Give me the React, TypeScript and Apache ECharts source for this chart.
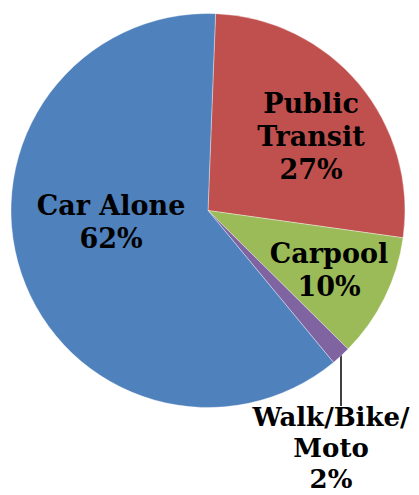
import React, { useEffect, useRef } from "react";
import * as echarts from "echarts";

const categories = ["Public\nTransit", "Carpool", "Walk/Bike/\nMoto", "Car Alone"];
const shares = [26.6, 10.2, 1.6, 61.6];
const colors = ["#C0504D", "#9BBB59", "#8064A2", "#4F81BD"];
// label centres (layout only)
const labelCenters: [number, number][] = [
  [311, 136],
  [329, 270],
  [331, 448],
  [111, 222],
];

export default function App() {
  const ref = useRef<HTMLDivElement>(null);
  useEffect(() => {
    if (!ref.current) return;
    const chart = echarts.init(ref.current, null, { renderer: "svg" });
    chart.setOption({
      animation: false,
      backgroundColor: "#ffffff",
      series: [
        {
          type: "pie",
          center: [208, 210.5],
          radius: [0, 197],
          startAngle: 87.8,
          clockwise: true,
          avoidLabelOverlap: false,
          itemStyle: { borderColor: "rgba(255,255,255,0.6)", borderWidth: 0.6 },
          label: {
            show: true,
            position: "inside",
            fontFamily: "DejaVu Serif",
            fontWeight: "bold",
            fontSize: 27,
            lineHeight: 33,
            color: "#000000",
            align: "center",
            formatter: (p: any) => `${p.name}\n${Math.round(p.value)}%`,
          },
          labelLine: { show: false },
          labelLayout: (params: any) => {
            const c = labelCenters[params.dataIndex];
            const res: any = { x: c[0], y: c[1], align: "center", verticalAlign: "middle" };
            if (params.dataIndex === 2) {
              res.labelLinePoints = [
                [341, 354],
                [341, 380],
                [341, 406],
              ];
            }
            return res;
          },
          data: categories.map((name, i) => {
            const d: any = { name, value: shares[i], itemStyle: { color: colors[i] } };
            if (i === 2) {
              d.label = { position: "outside", fontSize: 26, lineHeight: 31 };
              d.labelLine = { show: true, lineStyle: { color: "#000000", width: 1.5 }, length: 10, length2: 10 };
            }
            return d;
          }),
        },
      ],
    });
    return () => chart.dispose();
  }, []);
  return (
    <div
      ref={ref}
      style={{ position: "fixed", left: 0, top: 0, width: 419, height: 495 }}
    />
  );
}
